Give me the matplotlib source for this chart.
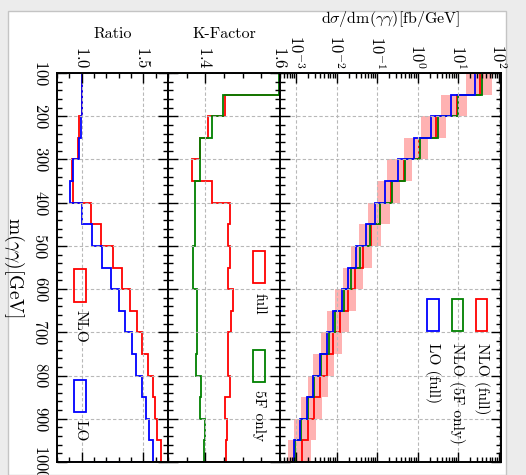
import numpy as np
import matplotlib
matplotlib.use('Agg')
import matplotlib.pyplot as plt
from matplotlib.patches import Rectangle
from matplotlib.ticker import FixedLocator, MultipleLocator, LogLocator, NullFormatter

plt.rcParams['font.family'] = 'cmr10'
plt.rcParams['mathtext.fontset'] = 'cm'
plt.rcParams['axes.formatter.use_mathtext'] = True
plt.rcParams['axes.unicode_minus'] = False

# m(yy) bin edges [GeV]
edges = [100, 150, 200, 250, 300, 350, 400, 450, 500, 550,
         600, 650, 700, 750, 800, 850, 900, 950, 1000]
mass_ticks = [100, 200, 300, 400, 500, 600, 700, 800, 900, 1000]

# dsigma/dm [fb/GeV]
nlo_full = [35.5, 9.55, 2.88, 1.07, 0.468, 0.219, 0.120, 0.0708, 0.0457, 0.0282,
            0.0195, 0.0120, 0.00832, 0.00575, 0.00389, 0.00269, 0.00195, 0.00138]
nlo_full_lo = [16.0, 3.72, 1.20, 0.450, 0.177, 0.0973, 0.0593, 0.0356, 0.0226, 0.0146,
               0.00914, 0.00590, 0.00406, 0.00267, 0.00194, 0.00133, 0.000908, 0.000646]
nlo_full_hi = [70.0, 16.9, 4.95, 1.85, 0.748, 0.365, 0.207, 0.122, 0.0733, 0.0455,
               0.0301, 0.0202, 0.0134, 0.00877, 0.00625, 0.00430, 0.00311, 0.00234]
nlo_5f = [38.9, 10.0, 3.14, 1.13, 0.501, 0.234, 0.117, 0.0661, 0.0380, 0.0224,
          0.0151, 0.00912, 0.00631, 0.00417, 0.00275, 0.00195, 0.00132, 0.000955]
lo_full = [25.7, 6.84, 2.20, 0.794, 0.331, 0.155, 0.0891, 0.0525, 0.0309, 0.0195,
           0.0135, 0.00832, 0.00575, 0.00389, 0.00263, 0.00182, 0.00126, 0.000912]

# K-factors
k_full = [1.62, 1.453, 1.407, 1.385, 1.363, 1.418, 1.467, 1.462, 1.465, 1.462,
          1.475, 1.470, 1.462, 1.462, 1.467, 1.453, 1.458, 1.456]
k_5f = [1.598, 1.446, 1.419, 1.385, 1.385, 1.371, 1.371, 1.373, 1.367, 1.367,
        1.377, 1.378, 1.379, 1.375, 1.389, 1.387, 1.398, 1.396]

# ratios full / 5F
ratio_nlo = [1.0, 1.0, 0.979, 0.973, 0.92, 0.933, 1.073, 1.157, 1.25, 1.327,
             1.392, 1.451, 1.49, 1.537, 1.575, 1.594, 1.613, 1.646]
ratio_lo = [1.0, 1.0, 0.995, 0.98, 0.933, 0.909, 1.003, 1.084, 1.167, 1.24,
            1.30, 1.354, 1.41, 1.443, 1.49, 1.519, 1.546, 1.575]

RED, GREEN, BLUE = '#ff0000', '#008000', '#0000ff'
LW = 1.3

W, H = 526, 475
fig = plt.figure(figsize=(W / 100, H / 100), dpi=100)
fig.patch.set_facecolor('#ececec')
fig.add_artist(Rectangle((8 / W, 0), 498 / W, 464 / H, transform=fig.transFigure,
                         facecolor='white', edgecolor='#c4c4c4', lw=1, zorder=-1))

b, h = 13 / H, 389 / H
ax_r = fig.add_axes([57 / W, b, 111 / W, h])
ax_k = fig.add_axes([168 / W, b, 112 / W, h])
ax_s = fig.add_axes([280 / W, b, 221 / W, h])


def style(ax):
    ax.set_ylim(1000, 100)
    ax.yaxis.set_major_locator(FixedLocator(mass_ticks))
    ax.yaxis.set_minor_locator(MultipleLocator(20))
    ax.xaxis.tick_top()
    ax.xaxis.set_label_position('top')
    ax.tick_params(which='both', direction='in', top=True, bottom=True,
                   left=True, right=True, width=1, colors='black')
    ax.tick_params(which='major', length=7)
    ax.tick_params(which='minor', length=3.5)
    ax.tick_params(axis='x', labelrotation=270, labelsize=12, pad=3)
    ax.grid(True, which='major', ls=(0, (3, 2)), color='#b8b8b8', lw=0.8)
    for s in ax.spines.values():
        s.set_linewidth(1.4)


def legend_box(ax, x0, x1, y0, y1, color, label, tx, ty):
    ax.add_patch(Rectangle((x0, y0), x1 - x0, y1 - y0, transform=ax.transAxes,
                           facecolor='none', edgecolor=color, lw=1.3, zorder=5))
    ax.text(tx, ty, label, transform=ax.transAxes, rotation=270,
            ha='center', va='top', fontsize=11)


# ratio panel
style(ax_r)
ax_r.stairs(ratio_nlo, edges, orientation='horizontal', color=RED, lw=LW)
ax_r.stairs(ratio_lo, edges, orientation='horizontal', color=BLUE, lw=LW)
ax_r.set_xlim(0.8, 1.7)
ax_r.xaxis.set_major_locator(FixedLocator([1.0, 1.5]))
ax_r.xaxis.set_minor_locator(MultipleLocator(0.1))
ax_r.set_xlabel('Ratio', fontsize=11.5, labelpad=6)
ax_r.tick_params(axis='y', labelrotation=270, labelsize=12, pad=6)
for t in ax_r.get_yticklabels():
    t.set_va('center')
ax_r.set_ylabel(r'$\mathrm{m}(\gamma\gamma)[\mathrm{GeV}]$', fontsize=14,
                rotation=270, labelpad=13, va='center')
legend_box(ax_r, 0.153, 0.261, 0.411, 0.496, RED, 'NLO', 0.207, 0.39)
legend_box(ax_r, 0.153, 0.261, 0.129, 0.211, BLUE, 'LO', 0.207, 0.108)

# K-factor panel
style(ax_k)
ax_k.stairs(k_full, edges, orientation='horizontal', color=RED, lw=LW)
ax_k.stairs(k_5f, edges, orientation='horizontal', color=GREEN, lw=LW)
ax_k.set_xlim(1.3, 1.6)
ax_k.xaxis.set_major_locator(FixedLocator([1.4, 1.6]))
ax_k.xaxis.set_minor_locator(MultipleLocator(0.05))
ax_k.set_xlabel('K-Factor', fontsize=11.5, labelpad=6)
ax_k.tick_params(axis='y', labelleft=False)
legend_box(ax_k, 0.759, 0.866, 0.460, 0.542, RED, 'full', 0.8125, 0.434)
legend_box(ax_k, 0.759, 0.866, 0.206, 0.288, GREEN, '5F only', 0.8125, 0.185)

# cross-section panel
style(ax_s)
ax_s.set_xscale('log')
ax_s.stairs(nlo_full_hi, edges, baseline=nlo_full_lo, fill=True,
            orientation='horizontal', color='#ff0000', alpha=0.3, lw=0)
ax_s.stairs(nlo_full, edges, baseline=1e-6, orientation='horizontal', color=RED, lw=LW)
ax_s.stairs(nlo_5f, edges, baseline=1e-6, orientation='horizontal', color=GREEN, lw=LW)
ax_s.stairs(lo_full, edges, baseline=1e-6, orientation='horizontal', color=BLUE, lw=LW)
ax_s.set_xlim(4e-4, 1.15e2)
ax_s.xaxis.set_major_locator(LogLocator(base=10, numticks=12))
ax_s.xaxis.set_minor_locator(LogLocator(base=10, subs=np.arange(2, 10), numticks=12))
ax_s.xaxis.set_minor_formatter(NullFormatter())
ax_s.set_xlabel(r'$\mathrm{d}\sigma/\mathrm{dm}(\gamma\gamma)[\mathrm{fb/GeV}]$',
                fontsize=11.5, labelpad=9)
ax_s.tick_params(axis='y', labelleft=False)
legend_box(ax_s, 0.887, 0.937, 0.337, 0.419, RED, 'NLO (full)', 0.912, 0.306)
legend_box(ax_s, 0.778, 0.828, 0.337, 0.419, GREEN, 'NLO (5F only)', 0.803, 0.306)
legend_box(ax_s, 0.665, 0.719, 0.337, 0.419, BLUE, 'LO (full)', 0.692, 0.306)

fig.savefig('out.png', dpi=100, facecolor=fig.get_facecolor())
